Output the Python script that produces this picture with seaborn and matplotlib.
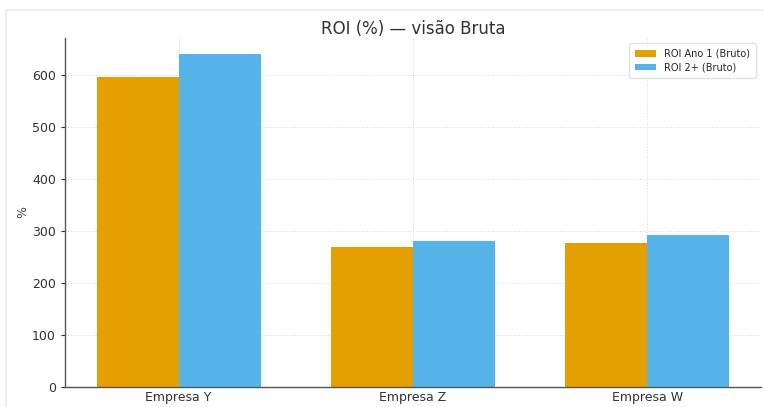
import matplotlib
matplotlib.use("Agg")
import matplotlib.pyplot as plt
import seaborn as sns
import pandas as pd

# ROI values per company (%)
empresas = ["Empresa Y", "Empresa Z", "Empresa W"]
roi_ano1 = [597, 269, 278]
roi_2mais = [640, 282, 293]
series = ["ROI Ano 1 (Bruto)", "ROI 2+ (Bruto)"]
cores = ["#E69F00", "#56B4E9"]

df = pd.DataFrame({
    "Empresa": empresas * 2,
    "ROI": roi_ano1 + roi_2mais,
    "Serie": [series[0]] * len(empresas) + [series[1]] * len(empresas),
})

sns.set_style("white")
plt.rcParams["font.family"] = ["DejaVu Sans"]

fig = plt.figure(figsize=(7.64, 4.07), dpi=100)
ax = fig.add_axes([0.085, 0.049, 0.911, 0.858])

sns.barplot(data=df, x="Empresa", y="ROI", hue="Serie", hue_order=series,
            palette=cores, width=0.7, saturation=1, ax=ax, errorbar=None,
            linewidth=0)

ax.set_xlim(-0.485, 2.485)
ax.set_ylim(0, 672)
ax.set_yticks(range(0, 700, 100))
ax.set_title("ROI (%) — visão Bruta", fontsize=12, color="#333333", pad=3)
ax.set_xlabel("")
ax.set_ylabel("%", fontsize=9, color="#444444", labelpad=2)
ax.tick_params(axis="both", labelsize=9, colors="#333333", length=3,
               left=True, bottom=True)
ax.tick_params(axis="x", length=0, pad=3)

ax.grid(True, linestyle=":", linewidth=0.7, color="#d8d8d8")
ax.set_axisbelow(True)
for s in ["top", "right"]:
    ax.spines[s].set_visible(False)
for s in ["left", "bottom"]:
    ax.spines[s].set_color("#555555")
    ax.spines[s].set_linewidth(1.0)

leg = ax.legend(loc="upper right", fontsize=7, frameon=True,
                borderpad=0.6, handlelength=2.2, labelspacing=0.4)
leg.get_frame().set_edgecolor("#dddddd")

# faint outer frame of the image
fig.patches.append(plt.Rectangle((0.008, -0.01), 1.0, 0.985, transform=fig.transFigure,
                                 fill=False, edgecolor="#eeeeee", linewidth=1.5))

fig.savefig("out.png", dpi=100)
